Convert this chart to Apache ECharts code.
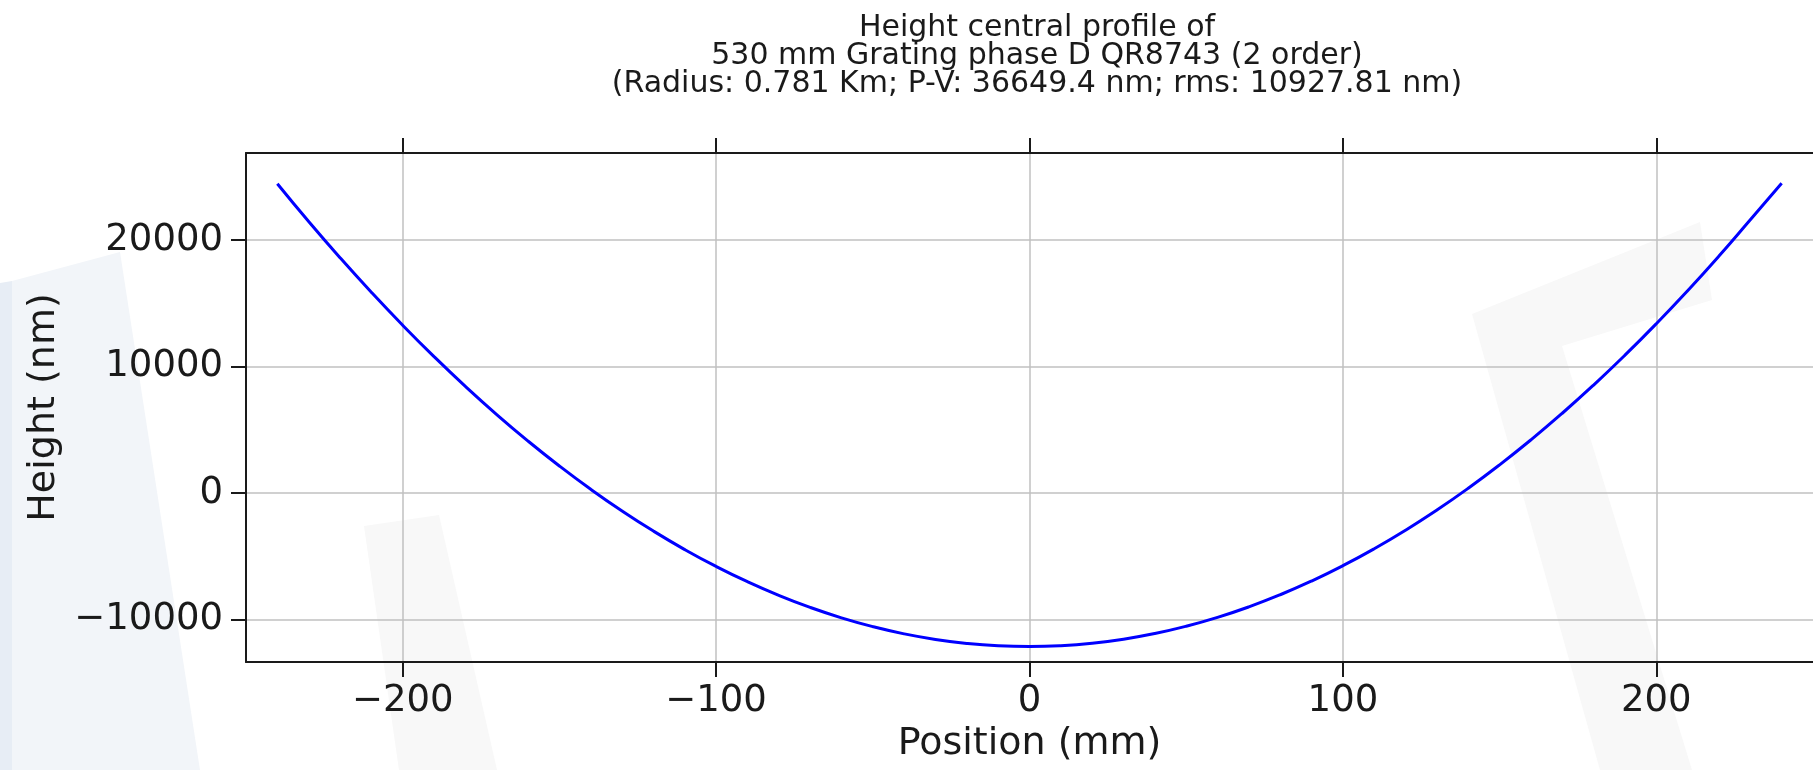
<!DOCTYPE html>
<html>
<head>
<meta charset="utf-8">
<title>Height central profile</title>
<script src="https://cdn.jsdelivr.net/npm/echarts@6/dist/echarts.min.js"></script>
<style>
  html, body { margin: 0; padding: 0; background: #ffffff; }
  #chart { width: 1813px; height: 770px; }
</style>
</head>
<body>
<div id="chart"></div>
<script>
// Measured profile along the grating centre line
const positions = [
  -240, -230, -220, -210, -200, -190, -180, -170, -160, -150, -140, -130, -120,
  -110, -100, -90, -80, -70, -60, -50, -40, -30, -20, -10, 0,
  10, 20, 30, 40, 50, 60, 70, 80, 90, 100, 110, 120,
  130, 140, 150, 160, 170, 180, 190, 200, 210, 220, 230, 240
];
const heights = [
  24469, 21478, 18615, 15879, 13270, 10789, 8435, 6208, 4109, 2138, 293, -1424, -3013,
  -4475, -5810, -7017, -8097, -9050, -9875, -10572, -11143, -11586, -11901, -12089, -12150,
  -12083, -11889, -11568, -11119, -10542, -9839, -9008, -8049, -6963, -5750, -4409, -2941,
  -1346, 377, 2228, 4205, 6310, 8543, 10903, 13390, 16005, 18747, 21616, 24499
];

const xTicks = [-200, -100, 0, 100, 200];
const yTicks = [-10000, 0, 10000, 20000];

const titleLines = [
  'Height central profile of',
  '530 mm Grating phase D QR8743 (2 order)',
  '(Radius: 0.781 Km; P-V: 36649.4 nm; rms: 10927.81 nm)'
];

const FONT = '"DejaVu Sans", sans-serif';
const minusFmt = v => (v < 0 ? '\u2212' + Math.abs(v) : String(v));

const chart = echarts.init(document.getElementById('chart'), null, { renderer: 'canvas' });

const axisLineStyle = { color: '#1a1a1a', width: 2 };
const tickStyle = { color: '#1a1a1a', width: 2 };

// faint background letterforms of the page watermark
const watermark = [
  { pts: [[0, 283], [12, 281], [12, 770], [0, 770]], fill: '#e7edf5' },
  { pts: [[12, 281], [120, 252], [200, 770], [12, 770]], fill: '#f2f5f9' },
  { pts: [[364, 526], [439, 515], [497, 770], [399, 770]], fill: '#f8f8f8' },
  { pts: [[1472, 314], [1700, 222], [1712, 300], [1562, 346], [1692, 770], [1600, 770]], fill: '#f8f8f8' }
];

chart.setOption({
  animation: false,
  backgroundColor: '#ffffff',
  graphic: [
    ...watermark.map(w => ({
      type: 'polygon',
      z: -10,
      silent: true,
      shape: { points: w.pts },
      style: { fill: w.fill, stroke: null }
    })),
    {
      type: 'text',
      x: 1037,
      y: 56,
      style: {
        text: titleLines.join('\n'),
        font: '30px ' + FONT,
        lineHeight: 28,
        fill: '#1a1a1a',
        textAlign: 'center',
        textVerticalAlign: 'middle'
      }
    }
  ],
  grid: { left: 246, right: -7, top: 153, bottom: 108 },
  xAxis: [
    {
      type: 'value',
      position: 'bottom',
      min: -250,
      max: 250,
      name: 'Position (mm)',
      nameLocation: 'middle',
      nameGap: 63,
      nameTextStyle: { fontFamily: FONT, fontSize: 38, color: '#1a1a1a' },
      axisLine: { show: true, onZero: false, lineStyle: axisLineStyle },
      axisTick: { show: true, inside: false, length: 15, customValues: xTicks, lineStyle: tickStyle },
      axisLabel: {
        customValues: xTicks, formatter: minusFmt, margin: 21,
        fontFamily: FONT, fontSize: 37, color: '#1a1a1a'
      },
      splitLine: { show: true, lineStyle: { color: '#c0c0c0', width: 1.5 } }
    },
    {
      type: 'value',
      position: 'top',
      min: -250,
      max: 250,
      axisLine: { show: true, onZero: false, lineStyle: axisLineStyle },
      axisTick: { show: true, inside: false, length: 15, customValues: xTicks, lineStyle: tickStyle },
      axisLabel: { show: false },
      splitLine: { show: false }
    }
  ],
  yAxis: [
    {
      type: 'value',
      position: 'left',
      min: -13370,
      max: 26900,
      name: 'Height (nm)',
      nameLocation: 'middle',
      nameGap: 177,
      nameTextStyle: { fontFamily: FONT, fontSize: 38, color: '#1a1a1a' },
      axisLine: { show: true, onZero: false, lineStyle: axisLineStyle },
      axisTick: { show: true, inside: false, length: 15, customValues: yTicks, lineStyle: tickStyle },
      axisLabel: {
        customValues: yTicks, formatter: minusFmt, margin: 23,
        fontFamily: FONT, fontSize: 37, color: '#1a1a1a'
      },
      splitLine: { show: true, lineStyle: { color: '#c0c0c0', width: 1.5 } }
    }
  ],
  series: [
    {
      type: 'line',
      xAxisIndex: 0,
      yAxisIndex: 0,
      data: positions.map((p, i) => [p, heights[i]]),
      showSymbol: false,
      smooth: true,
      lineStyle: { color: '#0000ff', width: 3 },
      itemStyle: { color: '#0000ff' }
    }
  ]
});
</script>
</body>
</html>
